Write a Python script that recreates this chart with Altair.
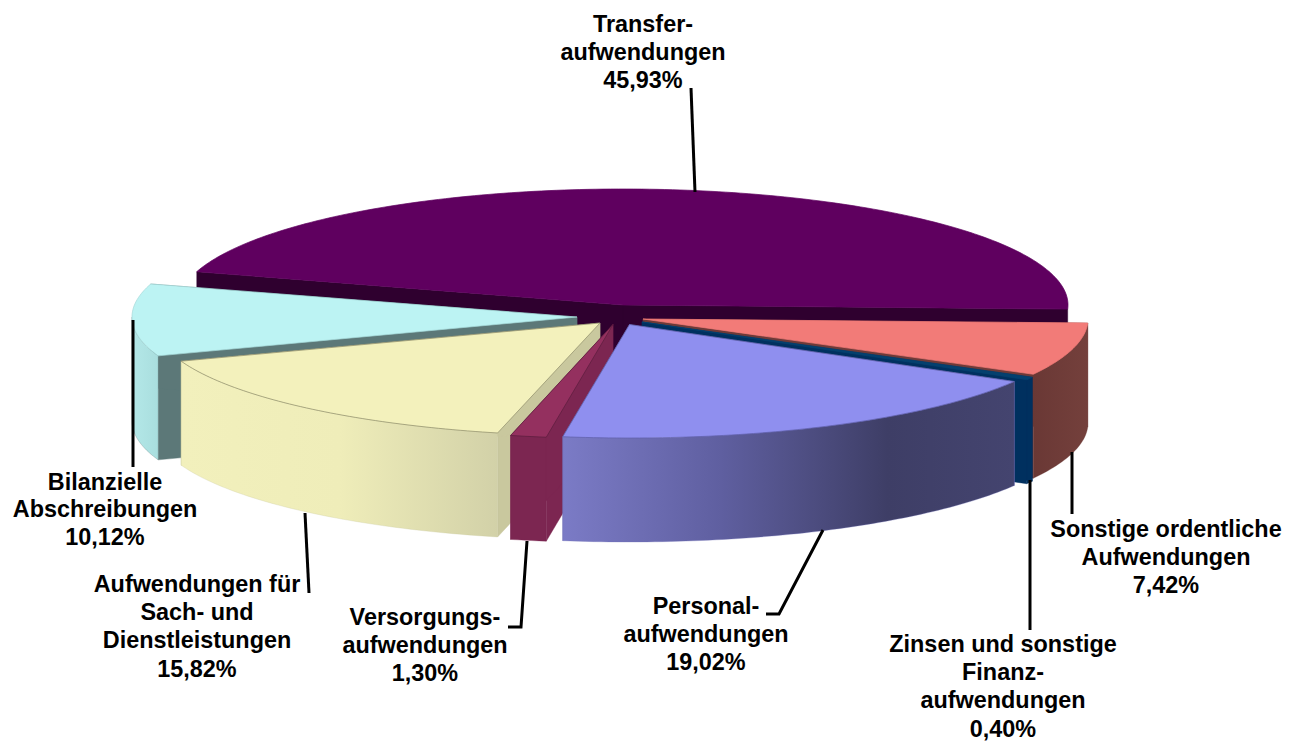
import math
import altair as alt

# ---- data -----------------------------------------------------------------
names = ["Sonstige", "Zinsen", "Personal", "Versorgung", "Sach", "Bilanz", "Transfer"]
shares = [7.42, 0.40, 19.02, 1.30, 15.82, 10.12, 45.93]

label_lines = [
    ["Sonstige ordentliche", "Aufwendungen", "7,42%"],
    ["Zinsen und sonstige", "Finanz-", "aufwendungen", "0,40%"],
    ["Personal-", "aufwendungen", "19,02%"],
    ["Versorgungs-", "aufwendungen", "1,30%"],
    ["Aufwendungen für", "Sach- und", "Dienstleistungen", "15,82%"],
    ["Bilanzielle", "Abschreibungen", "10,12%"],
    ["Transfer-", "aufwendungen", "45,93%"],
]

# ---- styling / layout ------------------------------------------------------
W, H = 1288, 734
RX, DEPTH, ROT = 445.0, 104.0, 2.0
centres = {
    "Sonstige": (643, 319, 115), "Zinsen": (642, 322, 115), "Personal": (629.5, 324.5, 113.5),
    "Versorgung": (613, 324.5, 114), "Sach": (600, 323, 113), "Bilanz": (577, 317, 115),
    "Transfer": (623, 305, 116),
}
top_col = {
    "Sonstige": "#f27b78", "Zinsen": "#04406f", "Personal": "#8f8fef", "Versorgung": "#94305f",
    "Sach": "#f3f1bc", "Bilanz": "#bcf3f3", "Transfer": "#5f005f",
}
edge_col = {
    "Sonstige": "#f27b78", "Zinsen": "#04406f", "Personal": "#5f5fa8", "Versorgung": "#5a1c3c",
    "Sach": "#8e8d6a", "Bilanz": "#a5d8d8", "Transfer": "#5f005f",
}
cut_col = {
    "Sonstige": "#6e3a38", "Zinsen": "#00305f", "Personal": "#6f6fb8", "Versorgung": "#7c2651",
    "Sach": "#c9c89e", "Bilanz": "#5c7878", "Transfer": "#2f002f",
}
wall_stops = {
    "Sonstige": [(0, "#6a3835"), (1, "#74403c")],
    "Zinsen": [(0, "#00305f"), (1, "#00305f")],
    "Personal": [(0, "#7b7bc6"), (0.35, "#5f5fa0"), (0.72, "#3e3e66"), (1, "#44446f")],
    "Versorgung": [(0, "#7c2651"), (1, "#7c2651")],
    "Sach": [(0, "#f2f0bc"), (0.5, "#efedb9"), (1, "#d2d1a8")],
    "Bilanz": [(0, "#b4e8e8"), (1, "#a9dede")],
    "Transfer": [(0, "#2f002f"), (1, "#2f002f")],
}
leaders = [
    [(691, 88), (695, 192)],
    [(133, 320), (133, 467)],
    [(305, 513), (309, 593)],
    [(527, 541), (521, 627), (508, 627)],
    [(823, 530), (779, 614), (766, 614)],
    [(1030, 480), (1030, 630)],
    [(1072, 452), (1072, 514)],
]
label_pos = [
    (1166, [530, 558, 586]),
    (1003, [645, 673, 701, 730]),
    (706, [607, 635, 663]),
    (425, [618, 646, 674]),
    (197, [585, 613, 641, 670]),
    (105, [483, 510, 538]),
    (643, [25, 53, 81]),
]
FONT, FSIZE = "Liberation Sans", 23.4

# ---- geometry derived from the shares --------------------------------------
angles = {}
acc = ROT
for n, s in zip(names, shares):
    angles[n] = (acc, acc + s * 3.6)
    acc += s * 3.6


def pt(n, t):
    cx, cy, ry = centres[n]
    r = math.radians(t)
    return (cx + RX * math.cos(r) - 8, cy + ry * math.sin(r) - 8)


def arc(n, a, b, step=1.0):
    k = max(2, int(abs(b - a) / step) + 1)
    return [pt(n, a + (b - a) * i / k) for i in range(k + 1)]


def down(points):
    return [(x, y + DEPTH) for x, y in points]


def feature(points):
    ring = [list(p) for p in points] + [list(points[0])]
    return {"type": "Feature", "properties": {}, "geometry": {"type": "Polygon", "coordinates": [ring]}}


def shape(points, fill, stroke, sw=0.7):
    return (
        alt.Chart(alt.InlineData(values=[feature(points)]))
        .mark_geoshape(fill=fill, stroke=stroke, strokeWidth=sw)
        .project(type="identity", scale=1, translate=[0, 0])
    )


def gradient(stops):
    return alt.LinearGradient(
        gradient="linear",
        stops=[alt.GradientStop(offset=o, color=c) for o, c in stops],
        x1=0, x2=1, y1=0, y2=0,
    )


layers = []
for n in ["Transfer", "Sonstige", "Zinsen", "Bilanz", "Sach", "Versorgung", "Personal"]:
    a, b = angles[n]
    cx, cy, ry = centres[n]
    apex = (cx - 8, cy - 8)
    # cut faces
    for t in (a, b):
        c = pt(n, t)
        layers.append(shape([apex, c, (c[0], c[1] + DEPTH), (apex[0], apex[1] + DEPTH)], cut_col[n], cut_col[n], 0.4))
    # rim, only the part that faces the viewer
    lo, hi = max(a, 0), min(b, 180)
    if hi > lo:
        rim = arc(n, lo, hi)
        layers.append(shape(rim + down(rim)[::-1], gradient(wall_stops[n]), cut_col[n], 0.3))
    # top
    layers.append(shape([apex] + arc(n, a, b), top_col[n], edge_col[n], 0.7))

x_scale = alt.Scale(domain=[8, 8 + W], range=[0, W])
y_scale = alt.Scale(domain=[8, 8 + H], range=[0, H])

for i, seg in enumerate(leaders):
    rows = [{"x": p[0], "y": p[1], "k": j} for j, p in enumerate(seg)]
    layers.append(
        alt.Chart(alt.InlineData(values=rows))
        .mark_line(color="#000000", strokeWidth=3, clip=False)
        .encode(
            x=alt.X("x:Q", scale=x_scale, axis=None),
            y=alt.Y("y:Q", scale=y_scale, axis=None),
            order="k:Q",
        )
    )

text_rows = []
for lines, (xc, ys) in zip(label_lines, label_pos):
    for line, yc in zip(lines, ys):
        text_rows.append({"x": xc, "y": yc, "t": line})

layers.append(
    alt.Chart(alt.InlineData(values=text_rows))
    .mark_text(font=FONT, fontSize=FSIZE, fontWeight="bold", color="#000000", align="center", baseline="middle")
    .encode(
        x=alt.X("x:Q", scale=x_scale, axis=None),
        y=alt.Y("y:Q", scale=y_scale, axis=None),
        text="t:N",
    )
)

chart = (
    alt.layer(*layers)
    .properties(width=W, height=H, padding=0, autosize=alt.AutoSizeParams(type="none"))
    .configure_view(stroke=None)
)
chart.save("out.html", embed_options={"renderer": "svg", "actions": False})
